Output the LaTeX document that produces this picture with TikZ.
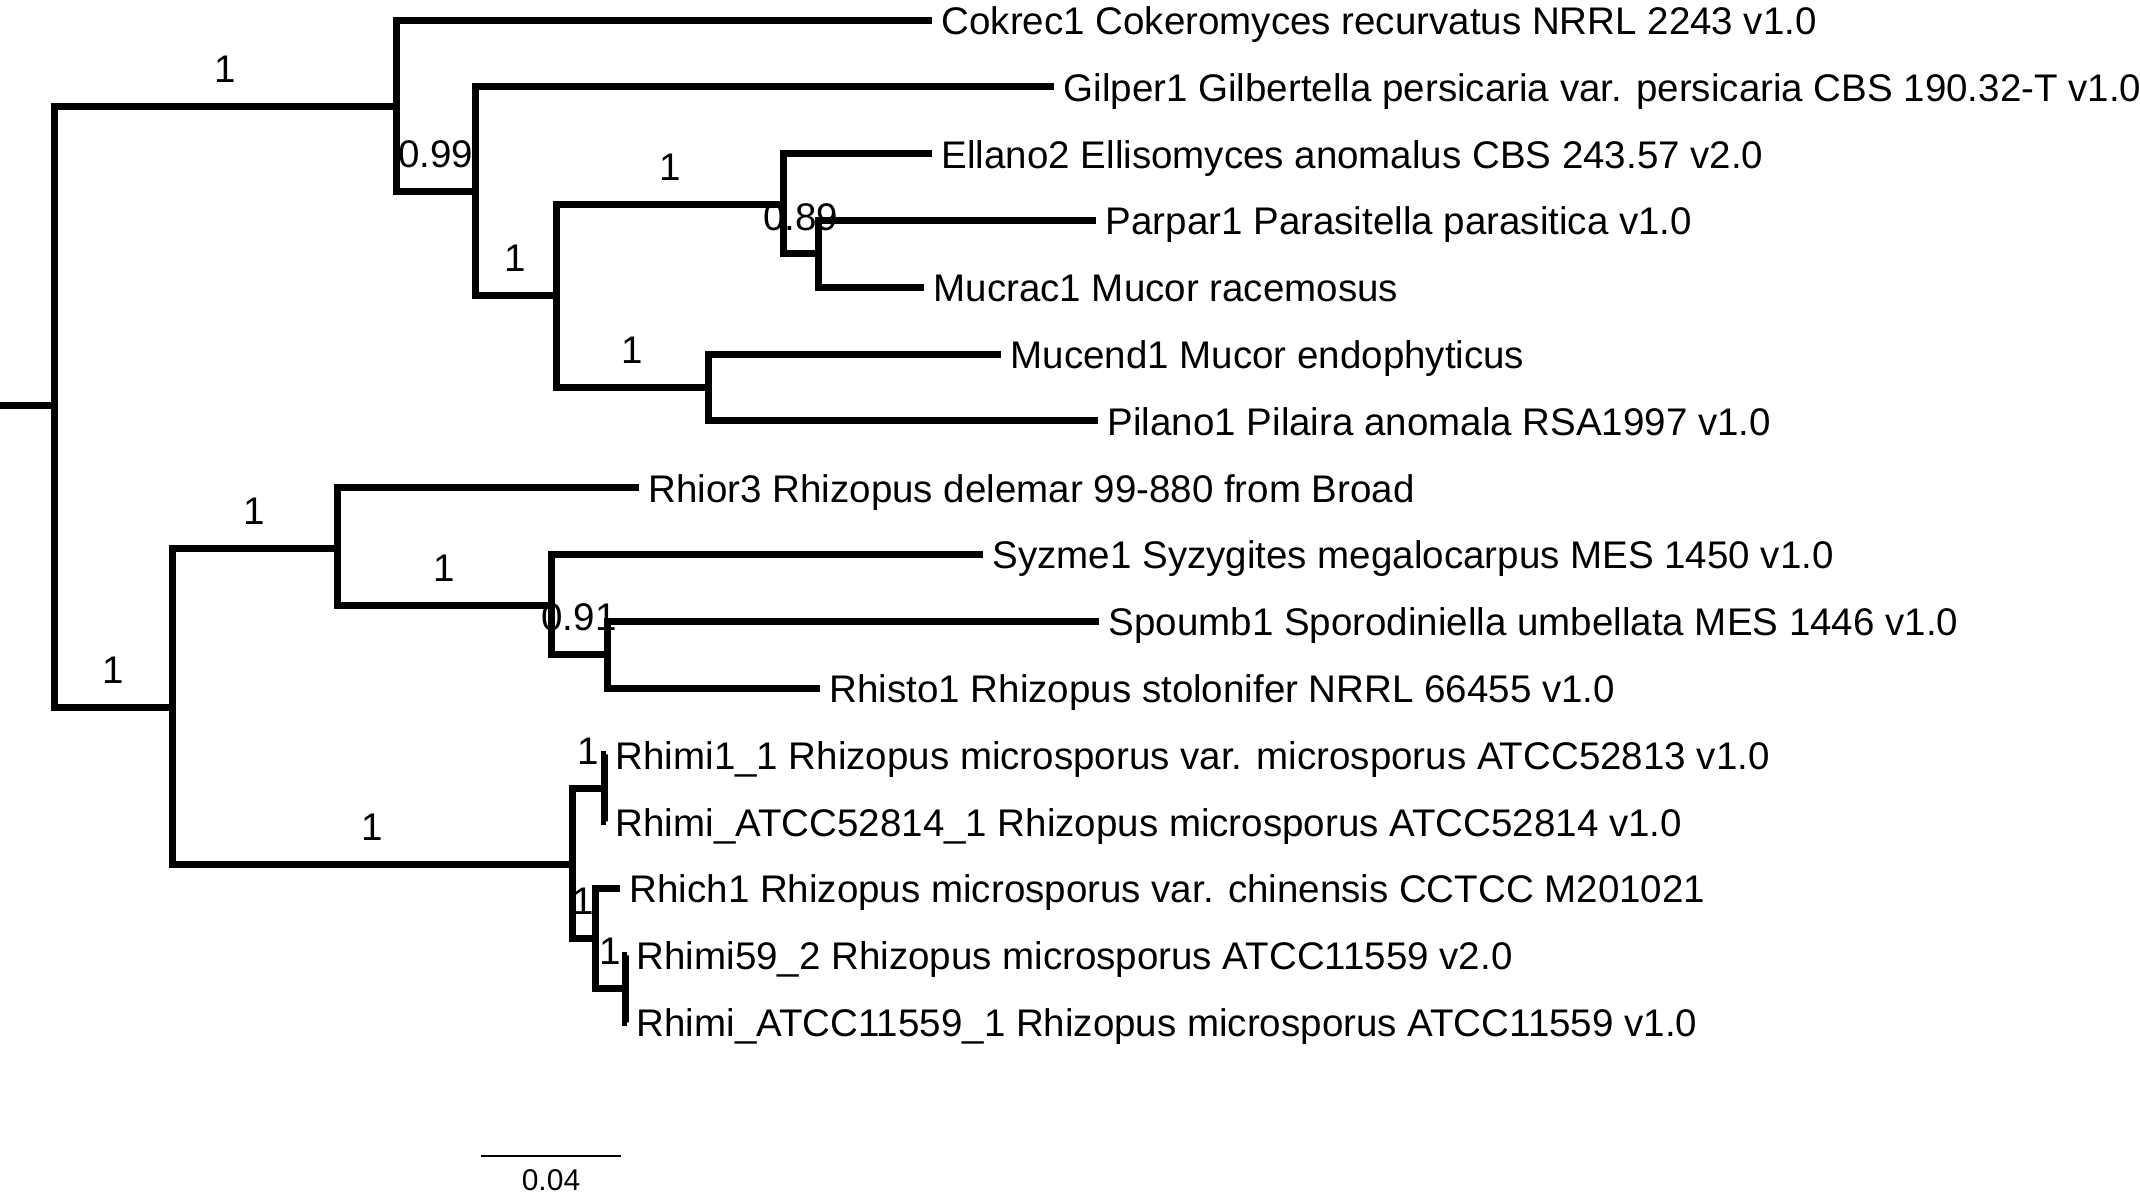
\documentclass[tikz,border=0pt]{standalone}
\usepackage{fontspec}
\setmainfont{Liberation Sans}
\begin{document}
\begin{tikzpicture}[x=1pt,y=-1pt,
  br/.style={line width=7pt, line cap=butt, line join=miter},
  tiplab/.style={anchor=base west, inner sep=0pt, font=\fontsize{38.5}{40}\selectfont, xshift=9.5pt, yshift=-14.5pt},
  suplab/.style={inner sep=0pt, font=\fontsize{38.5}{40}\selectfont, pos=0.75, yshift=37pt}]
\useasboundingbox (0,0) rectangle (2140,1197);
% internal nodes
\coordinate (R0) at (0,405);
\coordinate (R) at (54.5,405);
\coordinate (A) at (396,106);
\coordinate (A2) at (475,191);
\coordinate (A3) at (556,295.5);
\coordinate (A4) at (783.5,204);
\coordinate (A6) at (818,253.8);
\coordinate (A5) at (708,387.4);
\coordinate (B) at (172,707);
\coordinate (C) at (337,548);
\coordinate (E) at (551,605);
\coordinate (F) at (607,654.6);
\coordinate (D) at (572,864);
\coordinate (G) at (604,788.2);
\coordinate (H) at (595,938.5);
\coordinate (I) at (625,988.6);
% tips
\coordinate (t0) at (932,20);
\coordinate (t1) at (1054,86.8);
\coordinate (t2) at (932,153.6);
\coordinate (t3) at (1096,220.4);
\coordinate (t4) at (924,287.2);
\coordinate (t5) at (1001,354);
\coordinate (t6) at (1098,420.8);
\coordinate (t7) at (639,487.6);
\coordinate (t8) at (983,554.4);
\coordinate (t9) at (1099,621.2);
\coordinate (t10) at (820,688);
\coordinate (t11) at (606,754.8);
\coordinate (t12) at (606,821.6);
\coordinate (t13) at (620,888.4);
\coordinate (t14) at (627,955.2);
\coordinate (t15) at (627,1022);
% branches
\draw[br] (R0) -- (R);
\draw[br] (R) |- (A) node[suplab] (s1) {1};
\draw[br] (R) |- (B) node[suplab] (s2) {1};
\draw[br] (A) |- (t0);
\draw[br] (A) |- (A2) node[suplab] (s3) {0.99};
\draw[br] (A2) |- (t1);
\draw[br] (A2) |- (A3) node[suplab] (s4) {1};
\draw[br] (A3) |- (A4) node[suplab] (s5) {1};
\draw[br] (A3) |- (A5) node[suplab] (s6) {1};
\draw[br] (A4) |- (t2);
\draw[br] (A4) |- (A6) node[suplab] (s7) {0.89};
\draw[br] (A6) |- (t3);
\draw[br] (A6) |- (t4);
\draw[br] (A5) |- (t5);
\draw[br] (A5) |- (t6);
\draw[br] (B) |- (C) node[suplab] (s8) {1};
\draw[br] (B) |- (D) node[suplab] (s9) {1};
\draw[br] (C) |- (t7);
\draw[br] (C) |- (E) node[suplab] (s10) {1};
\draw[br] (E) |- (t8);
\draw[br] (E) |- (F) node[suplab] (s11) {0.91};
\draw[br] (F) |- (t9);
\draw[br] (F) |- (t10);
\draw[br] (D) |- (G) node[suplab] (s12) {1};
\draw[br] (D) |- (H) node[suplab] (s13) {1};
\draw[br] (G) |- (t11);
\draw[br] (G) |- (t12);
\draw[br] (H) |- (t13);
\draw[br] (H) |- (I) node[suplab] (s14) {1};
\draw[br] (I) |- (t14);
\draw[br] (I) |- (t15);
% tip labels
\node[tiplab] (n0) at (t0) {Cokrec1 Cokeromyces recurvatus NRRL 2243 v1.0};
\node[tiplab] (n1) at (t1) {Gilper1 Gilbertella persicaria var. persicaria CBS 190.32-T v1.0};
\node[tiplab] (n2) at (t2) {Ellano2 Ellisomyces anomalus CBS 243.57 v2.0};
\node[tiplab] (n3) at (t3) {Parpar1 Parasitella parasitica v1.0};
\node[tiplab] (n4) at (t4) {Mucrac1 Mucor racemosus};
\node[tiplab] (n5) at (t5) {Mucend1 Mucor endophyticus};
\node[tiplab] (n6) at (t6) {Pilano1 Pilaira anomala RSA1997 v1.0};
\node[tiplab] (n7) at (t7) {Rhior3 Rhizopus delemar 99-880 from Broad};
\node[tiplab] (n8) at (t8) {Syzme1 Syzygites megalocarpus MES 1450 v1.0};
\node[tiplab] (n9) at (t9) {Spoumb1 Sporodiniella umbellata MES 1446 v1.0};
\node[tiplab] (n10) at (t10) {Rhisto1 Rhizopus stolonifer NRRL 66455 v1.0};
\node[tiplab] (n11) at (t11) {Rhimi1\_1 Rhizopus microsporus var. microsporus ATCC52813 v1.0};
\node[tiplab] (n12) at (t12) {Rhimi\_ATCC52814\_1 Rhizopus microsporus ATCC52814 v1.0};
\node[tiplab] (n13) at (t13) {Rhich1 Rhizopus microsporus var. chinensis CCTCC M201021};
\node[tiplab] (n14) at (t14) {Rhimi59\_2 Rhizopus microsporus ATCC11559 v2.0};
\node[tiplab] (n15) at (t15) {Rhimi\_ATCC11559\_1 Rhizopus microsporus ATCC11559 v1.0};
% scale bar
\coordinate (sb1) at (481,1156);
\coordinate (sb2) at (621,1156);
\draw[line width=1.3pt] (sb1) -- (sb2) node[midway, inner sep=0pt, yshift=-24pt, font=\fontsize{30}{32}\selectfont] (sbl) {0.04};
\end{tikzpicture}
\end{document}
